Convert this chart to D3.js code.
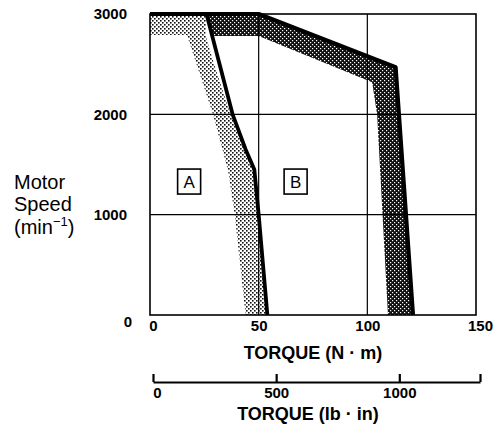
<!DOCTYPE html>
<html>
<head>
<meta charset="utf-8">
<script src="https://cdn.jsdelivr.net/npm/d3@7"></script>
<style>
  html, body { margin: 0; padding: 0; background: #fff; }
  svg { display: block; font-family: "Liberation Sans", Arial, sans-serif; }
</style>
</head>
<body>
<svg id="chart" width="499" height="433"></svg>
<script>
// Torque limits (N·m) against motor speed (min^-1)
const speedTicks = [0, 1000, 2000, 3000];
const torqueTicks = [0, 50, 100, 150];
const lbInTicks = [0, 500, 1000];
const lbInMax = 1327.6; // 150 N·m expressed in lb·in

// Continuous-duty limit A (solid curve)
const lineATorque = [0, 26, 38, 44, 48, 50, 54];
const lineASpeed  = [3000, 3000, 2000, 1650, 1450, 1000, 0];

// Shaded spread of region A (left edge, bottom to top, then top block)
const bandATorqueLeft = [44, 39, 36, 33.6, 29, 17, 0];
const bandASpeedLeft  = [0, 1000, 1430, 1630, 2000, 2790, 2790];
// Right edge of the A shading, top to bottom
const bandATorqueRight = [0, 26, 25.5, 29.5, 37, 44, 48, 50, 54];
const bandASpeedRight  = [3000, 3000, 2790, 2500, 2000, 1650, 1450, 1000, 0];

// Intermittent limit B (solid outer edge)
const lineBTorque = [26, 50, 113, 121];
const lineBSpeed  = [3000, 3000, 2470, 0];
// Inner edge of the B shading, bottom to top
const bandBTorqueInner = [109.5, 107, 104.5, 102.2, 50, 28.5];
const bandBSpeedInner  = [0, 1000, 2000, 2320, 2780, 2780];

const regionLabels = ["A", "B"];
const regionTorque = [18, 67];
const regionSpeed  = [1330, 1330];

const svg = d3.select("#chart");
const x = d3.scaleLinear().domain([0, 150]).range([150, 476]);
const y = d3.scaleLinear().domain([0, 3000]).range([315, 14]);
const xLb = d3.scaleLinear().domain([0, lbInMax]).range([153, 480]);

// Dot screens for the two shaded regions
const defs = svg.append("defs");
const light = defs.append("pattern").attr("id", "lightDots")
  .attr("patternUnits", "userSpaceOnUse").attr("width", 4).attr("height", 4);
light.append("rect").attr("width", 4).attr("height", 4).attr("fill", "#fff");
light.append("rect").attr("x", 0).attr("y", 0).attr("width", 1.6).attr("height", 1.6).attr("fill", "#111");
light.append("rect").attr("x", 2).attr("y", 2).attr("width", 1.6).attr("height", 1.6).attr("fill", "#111");

const dark = defs.append("pattern").attr("id", "darkDots")
  .attr("patternUnits", "userSpaceOnUse").attr("width", 4).attr("height", 4);
dark.append("rect").attr("width", 4).attr("height", 4).attr("fill", "#111");
dark.append("rect").attr("x", 0).attr("y", 0).attr("width", 1.2).attr("height", 1.2).attr("fill", "#fff");
dark.append("rect").attr("x", 2).attr("y", 2).attr("width", 1.2).attr("height", 1.2).attr("fill", "#fff");

const zip = (xs, ys) => xs.map((v, i) => [v, ys[i]]);
const line = d3.line().x(d => x(d[0])).y(d => y(d[1]));
const poly = pts => line(pts) + "Z";

// Shaded bands
const bandA = zip(bandATorqueRight, bandASpeedRight).concat(zip(bandATorqueLeft, bandASpeedLeft));
svg.append("path").attr("d", poly(bandA)).attr("fill", "url(#lightDots)");

const bandB = zip(lineBTorque, lineBSpeed).concat(zip(bandBTorqueInner, bandBSpeedInner));
svg.append("path").attr("d", poly(bandB)).attr("fill", "url(#darkDots)");

// Grid lines
const grid = svg.append("g").attr("stroke", "#000").attr("stroke-width", 1.2);
[50, 100].forEach(t => grid.append("line")
  .attr("x1", x(t)).attr("x2", x(t)).attr("y1", y(0)).attr("y2", y(3000)));
[1000, 2000].forEach(s => grid.append("line")
  .attr("x1", x(0)).attr("x2", x(150)).attr("y1", y(s)).attr("y2", y(s)));

// Frame
svg.append("rect").attr("x", x(0)).attr("y", y(3000))
  .attr("width", x(150) - x(0)).attr("height", y(0) - y(3000))
  .attr("fill", "none").attr("stroke", "#000").attr("stroke-width", 1.6);

// Limit curves
svg.append("path").attr("d", line(zip(lineATorque, lineASpeed)))
  .attr("fill", "none").attr("stroke", "#000").attr("stroke-width", 3.8)
  .attr("stroke-linejoin", "round");
svg.append("path").attr("d", line(zip(lineBTorque, lineBSpeed)))
  .attr("fill", "none").attr("stroke", "#000").attr("stroke-width", 4.2)
  .attr("stroke-linejoin", "round");

// Region labels in boxes
regionLabels.forEach((lab, i) => {
  const cx = x(regionTorque[i]), cy = y(regionSpeed[i]);
  svg.append("rect").attr("x", cx - 11.5).attr("y", cy - 12.5)
    .attr("width", 23).attr("height", 25)
    .attr("fill", "#fff").attr("stroke", "#000").attr("stroke-width", 1.6);
  svg.append("text").attr("x", cx).attr("y", cy + 6)
    .attr("text-anchor", "middle").attr("font-size", 17).text(lab);
});

// Speed axis
const yAxis = svg.append("g").attr("transform", `translate(${x(0)},0)`)
  .call(d3.axisLeft(y).tickValues(speedTicks).tickFormat(d3.format("d"))
    .tickSize(0).tickPadding(23));
yAxis.select(".domain").remove();
yAxis.selectAll("text").attr("font-size", 15).attr("font-weight", "bold")
  .attr("font-family", "Liberation Sans, Arial, sans-serif").attr("fill", "#000");
yAxis.selectAll(".tick").filter(d => d === 0).select("text")
  .attr("dx", 5).attr("dy", "0.75em");

// Torque (N·m) axis labels
const xAxis = svg.append("g").attr("transform", `translate(0,${y(0)})`)
  .call(d3.axisBottom(x).tickValues(torqueTicks).tickSize(0).tickPadding(5));
xAxis.select(".domain").remove();
xAxis.selectAll("text").attr("font-size", 15).attr("font-weight", "bold")
  .attr("font-family", "Liberation Sans, Arial, sans-serif").attr("fill", "#000");
xAxis.selectAll(".tick").filter(d => d === 0).select("text").attr("dx", 3);
xAxis.selectAll(".tick").filter(d => d === 150).select("text").attr("dx", 4);

svg.append("text").attr("x", 313).attr("y", 359)
  .attr("text-anchor", "middle").attr("font-size", 18).attr("font-weight", "bold")
  .text("TORQUE (N · m)");

// Torque (lb·in) axis
const lbAxis = svg.append("g").attr("transform", "translate(0,382)")
  .call(d3.axisBottom(xLb).tickValues(lbInTicks.concat([lbInMax]))
    .tickFormat(d => d === lbInMax ? "" : d3.format("d")(d))
    .tickSizeInner(-8).tickSizeOuter(0).tickPadding(5));
lbAxis.select(".domain").attr("stroke-width", 2.2);
lbAxis.selectAll("line").attr("stroke-width", 2.2);
lbAxis.selectAll("text").attr("font-size", 15).attr("font-weight", "bold")
  .attr("font-family", "Liberation Sans, Arial, sans-serif").attr("fill", "#000");
lbAxis.selectAll(".tick").filter(d => d === 0).select("text").attr("dx", 4);

svg.append("text").attr("x", 308).attr("y", 420)
  .attr("text-anchor", "middle").attr("font-size", 18).attr("font-weight", "bold")
  .text("TORQUE (lb · in)");

// Speed axis title
const yt = svg.append("text").attr("font-size", 20).attr("x", 14);
yt.append("tspan").attr("x", 14).attr("y", 189).text("Motor");
yt.append("tspan").attr("x", 14).attr("y", 211).text("Speed");
yt.append("tspan").attr("x", 14).attr("y", 234).text("(min");
yt.append("tspan").attr("font-size", 13).attr("dy", -8).text("−1");
yt.append("tspan").attr("dy", 8).text(")");
</script>
</body>
</html>
